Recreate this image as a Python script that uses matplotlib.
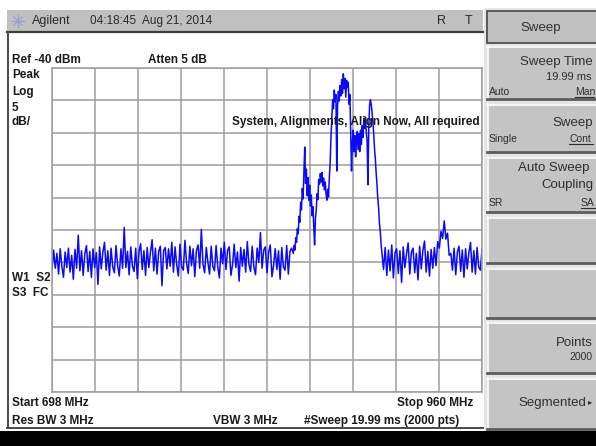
import matplotlib
matplotlib.use("Agg")
import matplotlib.pyplot as plt
from matplotlib.patches import Rectangle
import numpy as np

plt.rcParams['font.family'] = ['Liberation Sans', 'DejaVu Sans']

# sweep settings
start_mhz = 698
stop_mhz = 960
ref_dbm = -40
db_per_div = 5

# trace readings (dBm): noise floor 698-844 MHz every 1 MHz
floor_left = [
    -71.2, -68.1, -70.9, -68.6, -71.8, -67.9, -70.6, -72.3, -68.4, -70.8,
    -67.8, -71.5, -68.9, -72.6, -68.0, -70.9, -65.8, -71.3, -68.2, -72.0,
    -68.7, -67.4, -71.4, -68.3, -72.3, -67.9, -70.8, -68.5, -73.4, -67.6,
    -71.0, -68.4, -66.9, -71.2, -68.2, -72.0, -67.8, -70.7, -71.6, -67.4,
    -70.5, -72.1, -67.9, -70.9, -64.6, -70.8, -68.3, -71.9, -67.6, -70.6,
    -71.4, -67.8, -72.5, -68.4, -67.1, -71.1, -68.2, -72.0, -67.7, -70.8,
    -68.4, -66.5, -71.3, -67.8, -71.8, -68.3, -67.5, -73.6, -68.2, -67.7,
    -71.0, -67.9, -70.6, -66.9, -71.5, -67.6, -70.4, -72.1, -67.2, -70.7,
    -71.2, -66.6, -70.1, -71.7, -67.5, -70.5, -67.9, -72.2, -68.2, -67.3,
    -70.9, -64.9, -70.3, -71.6, -67.7, -70.0, -71.8, -67.5, -70.6, -71.3,
    -67.4, -70.7, -72.4, -67.8, -70.2, -66.9, -71.1, -68.1, -67.6, -72.0,
    -70.4, -67.2, -70.8, -68.4, -72.9, -67.7, -70.6, -68.0, -71.5, -66.8,
    -70.3, -71.4, -67.5, -70.7, -71.9, -67.8, -70.0, -65.4, -70.9, -68.1,
    -67.6, -71.6, -68.4, -67.3, -72.2, -70.5, -67.9, -71.1, -68.2, -72.6,
    -67.7, -70.7, -71.2, -67.4, -71.8, -68.3, -67.8,
]
# carrier 845-899.5 MHz every 0.5 MHz
signal = [
    -68.6, -67.4, -68.1, -66.2, -66.9, -64.8, -65.6, -62.9, -63.8, -60.7,
    -61.9, -58.6, -60.2, -55.9, -52.2, -57.8, -55.6, -59.7, -56.9, -60.4,
    -58.1, -61.3, -59.6, -62.8, -61.4, -64.6, -67.3, -63.2, -62.0, -59.4,
    -60.3, -57.2, -57.9, -56.3, -57.6, -56.1, -58.2, -57.0, -58.8, -57.6,
    -59.5, -60.4, -58.7, -59.9, -56.8, -54.5, -50.6, -47.8, -44.9, -46.3,
    -43.4, -45.2, -44.1, -55.9, -45.8, -43.6, -45.1, -42.7, -44.3, -41.8,
    -43.9, -40.9, -43.2, -41.6, -44.5, -41.9, -43.0, -42.2, -45.6, -44.1,
    -49.8, -55.9, -51.5, -49.6, -52.9, -50.4, -53.7, -51.2, -49.8, -52.6,
    -50.1, -52.9, -49.6, -51.8, -48.9, -50.7, -48.1, -49.3, -47.6, -49.9,
    -51.2, -58.0, -49.4, -45.8, -44.9, -45.6, -46.8, -48.3, -50.1, -52.4,
    -54.0, -56.2, -57.9, -60.1, -61.6, -63.9, -65.2, -67.1, -68.4, -69.6,
]
# noise floor 900-960 MHz every 1 MHz, small spur near 937 MHz
floor_right = [
    -71.1, -67.7, -72.0, -68.1, -71.3, -67.3, -72.4, -68.5, -67.9, -71.7,
    -68.2, -73.1, -67.6, -70.8, -68.7, -67.0, -71.8, -68.4, -67.8, -71.6,
    -68.6, -72.7, -67.5, -71.0, -68.1, -66.7, -71.5, -68.3, -72.1, -68.0,
    -70.9, -67.7, -70.5, -66.8, -67.8, -65.2, -66.3, -63.6, -66.4, -65.5,
    -68.9, -68.6, -71.2, -67.8, -71.9, -68.4, -67.5, -71.4, -68.1, -72.3,
    -67.9, -71.0, -68.5, -66.9, -71.5, -68.2, -71.8, -67.7, -70.7, -71.2, -68.0,
]
freq = np.concatenate([np.arange(698, 845), np.arange(845, 900, 0.5), np.arange(900, 961)])
trace = np.array(floor_left + signal + floor_right)

W, H = 596, 446
fig = plt.figure(figsize=(W / 100, H / 100), dpi=100)
fig.patch.set_facecolor('white')

# screen furniture drawn in pixel units
bg = fig.add_axes([0, 0, 1, 1])
bg.set_xlim(0, W)
bg.set_ylim(H, 0)
bg.axis('off')


def txt(x, y, s, size=8, ha='left', weight='normal', color='#1a1a1a', **kw):
    fig.text(x / W, 1 - y / H, s, fontsize=size, ha=ha, va='center',
             fontweight=weight, color=color, **kw)


# title bar
bg.add_patch(Rectangle((7, 10), 476, 22, fc='#c0c0c0', ec='none'))
bg.plot([7, 483], [32, 32], color='#3c3c3c', lw=1.6)
bg.plot([7.5, 7.5], [32, 428], color='#4a4a4a', lw=1.4)
bg.plot([7, 483], [428, 428], color='#4a4a4a', lw=1.4)
bg.add_patch(Rectangle((0, 431), W, 15, fc='black', ec='none'))

# agilent star
for a in np.linspace(0, np.pi, 4, endpoint=False):
    dx, dy = 6 * np.cos(a), 6 * np.sin(a)
    bg.plot([18 - dx, 18 + dx], [21 - dy, 21 + dy], color='#9a9ad8', lw=0.9)
txt(32, 21, 'Agilent', size=9, color='#2a2a2a')
txt(90, 21, '04:18:45  Aug 21, 2014', size=8.5, color='#2a2a2a')
txt(437, 21, 'R', size=9, color='#2a2a2a')
txt(465, 21, 'T', size=9, color='#2a2a2a')

# softkey panel
bg.add_patch(Rectangle((484, 8), 112, 423, fc='#e4e4e4', ec='none'))
bg.add_patch(Rectangle((487, 11), 112, 32, fc='#c0c0c0', ec='#505050', lw=1.3))
txt(541, 28, 'Sweep', size=9.5, ha='center', color='#303030')
keys = [(46, 100), (104, 153), (157, 213), (217, 264), (268, 319), (322, 374), (378, 430)]
for top, bot in keys:
    bg.add_patch(Rectangle((487, top), 112, bot - top, fc='#c4c4c4', ec='none'))
    bg.plot([487.5, 487.5], [top, bot], color='white', lw=1.2)
    bg.plot([487, 596], [top + 0.5, top + 0.5], color='white', lw=1.2)
    bg.plot([487, 596], [bot - 1, bot - 1], color='#5c5c5c', lw=2)

key_col = '#2e2e2e'
txt(593, 62, 'Sweep Time', size=9.5, ha='right', color=key_col)
txt(592, 77, '19.99 ms', size=8, ha='right', color=key_col)
txt(489, 92, 'Auto', size=7.5, color=key_col)
txt(575, 92, 'Man', size=7.5, color=key_col)
bg.plot([575, 594], [97, 97], color=key_col, lw=0.8)
txt(593, 123, 'Sweep', size=9.5, ha='right', color=key_col)
txt(489, 139, 'Single', size=7.5, color=key_col)
txt(569, 139, 'Cont', size=7.5, color=key_col)
bg.plot([569, 593], [144, 144], color=key_col, lw=0.8)
txt(589, 168, 'Auto Sweep', size=9.5, ha='right', color=key_col)
txt(594, 185, 'Coupling', size=9.5, ha='right', color=key_col)
txt(489, 203, 'SR', size=7.5, color=key_col)
txt(581, 203, 'SA', size=7.5, color=key_col)
bg.plot([581, 596], [208, 208], color=key_col, lw=0.8)
txt(593, 343, 'Points', size=9.5, ha='right', color=key_col)
txt(593, 357, '2000', size=7.5, ha='right', color=key_col)
txt(586, 403, 'Segmented', size=9.5, ha='right', color=key_col)
txt(588, 402, '\u25b8', size=6, color=key_col, family=['DejaVu Sans'])

# trace graticule: 10 x 10 divisions
ax = fig.add_axes([52 / W, (H - 392) / H, 430 / W, 324 / H])
ax.set_facecolor('white')
ax.set_xlim(start_mhz, stop_mhz)
ax.set_ylim(ref_dbm - 10 * db_per_div, ref_dbm)
ax.set_xticks(np.linspace(start_mhz, stop_mhz, 11))
ax.set_yticks(np.arange(ref_dbm - 10 * db_per_div, ref_dbm + 1, db_per_div))
ax.grid(True, color='#9c9c9c', lw=1.1)
ax.tick_params(length=0, labelbottom=False, labelleft=False)
for s in ax.spines.values():
    s.set_color('#9c9c9c')
    s.set_linewidth(1.1)
ax.plot(freq, trace, color='#0a0af5', lw=1.1)

# annotations
b = 'bold'
fs = 8.5
txt(12, 60, 'Ref -40 dBm', size=fs, weight=b)
txt(148, 60, 'Atten 5 dB', size=fs, weight=b)
txt(12, 75, 'Peak', size=fs, weight=b)
txt(12, 92, 'Log', size=fs, weight=b)
txt(12, 108, '5', size=fs, weight=b)
txt(12, 122, 'dB/', size=fs, weight=b)
txt(480, 122, 'System, Alignments, Align Now, All required', size=fs, ha='right', weight=b)
txt(12, 278, 'W1  S2', size=fs, weight=b)
txt(12, 293, 'S3  FC', size=fs, weight=b)
txt(12, 403, 'Start 698 MHz', size=fs, weight=b)
txt(12, 421, 'Res BW 3 MHz', size=fs, weight=b)
txt(213, 421, 'VBW 3 MHz', size=fs, weight=b)
txt(473, 403, 'Stop 960 MHz', size=fs, ha='right', weight=b)
txt(459, 421, '#Sweep 19.99 ms (2000 pts)', size=fs, ha='right', weight=b)

fig.savefig('out.png', dpi=100)
